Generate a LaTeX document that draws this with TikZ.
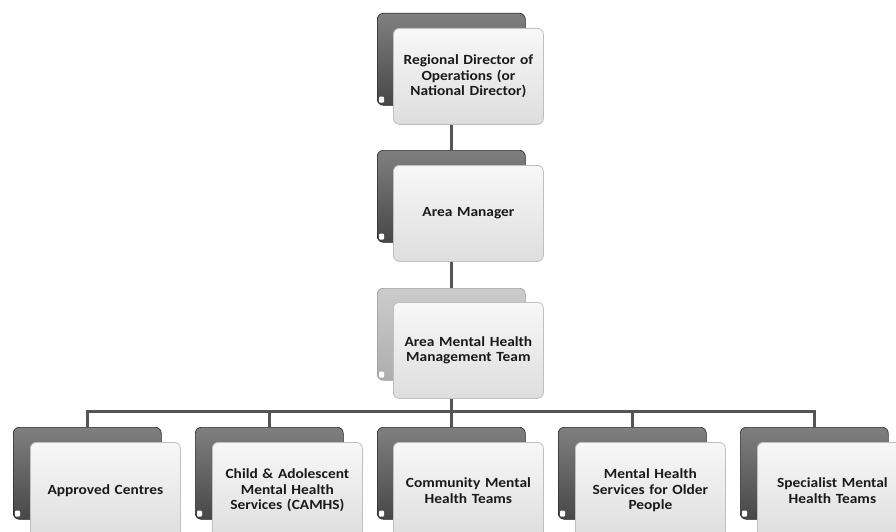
\documentclass[tikz,border=0pt]{standalone}
\usepackage{fontspec}
\setmainfont{Carlito}[FakeStretch=1.1]
\usetikzlibrary{backgrounds}
\definecolor{conn}{HTML}{555555}
\definecolor{txt}{HTML}{1A1A1A}
\tikzset{
  backcard/.style={rectangle, rounded corners=6pt, anchor=north west, minimum width=148pt, minimum height=92pt, inner sep=0pt, draw=black!85, line width=0.6pt, top color=black!50, middle color=black!74, bottom color=black!72},
  backlight/.style={backcard, draw=black!40, top color=black!20, middle color=black!34, bottom color=black!32},
  frontcard/.style={rectangle, rounded corners=6pt, anchor=north west, minimum width=150pt, minimum height=96pt, text width=146pt, align=center, inner sep=0pt, draw=black!25, line width=0.8pt, top color=black!3, middle color=black!6, bottom color=black!13, font=\bfseries\fontsize{14}{15.5}\selectfont, text=txt},
  connector/.style={draw=conn, line width=3pt},
  notch/.style={fill=white, rounded corners=1pt}
}
\newcommand{\notchat}[1]{\fill[notch] ([xshift=2pt,yshift=3pt]#1.south west) rectangle ([xshift=7pt,yshift=9pt]#1.south west);}
\begin{document}
\begin{tikzpicture}[x=1pt,y=-1pt]
\clip (0,0) rectangle (896,532);
% top
\node[backcard] (b1) at (377,13) {};
\notchat{b1}
\node[frontcard] (f1) at (393,28) {Regional Director of\\Operations (or\\National Director)};
% area manager
\node[backcard] (b2) at (377,150) {};
\notchat{b2}
\node[frontcard] (f2) at (393,165) {Area Manager};
% area mental health management team
\node[backlight] (b3) at (377,288) {};
\notchat{b3}
\node[frontcard] (f3) at (393,302) {Area Mental Health\\Management Team};
% bottom row
\node[backcard] (b4) at (13,427) {};
\notchat{b4}
\node[frontcard] (f4) at (30,442) {Approved Centres};
\node[backcard] (b5) at (195,427) {};
\notchat{b5}
\node[frontcard] (f5) at (212,442) {Child \& Adolescent\\Mental Health\\Services (CAMHS)};
\node[backcard] (b6) at (377,427) {};
\notchat{b6}
\node[frontcard] (f6) at (393,442) {Community Mental\\Health Teams};
\node[backcard] (b7) at (558,427) {};
\notchat{b7}
\node[frontcard] (f7) at (575,442) {Mental Health\\Services for Older\\People};
\node[backcard] (b8) at (740,427) {};
\notchat{b8}
\node[frontcard] (f8) at (757,442) {Specialist Mental\\Health Teams};
\coordinate (bus) at (451,411);
\begin{scope}[on background layer]
\draw[connector] (b1.south) -- (b2.north);
\draw[connector] (b2.south) -- (b3.north);
\draw[connector] (b3.south) -- (b6.north);
\draw[connector] (b4.north) |- (bus) -| (b8.north);
\draw[connector] (b5.north) |- (bus);
\draw[connector] (b7.north) |- (bus);
\end{scope}
\end{tikzpicture}
\end{document}
